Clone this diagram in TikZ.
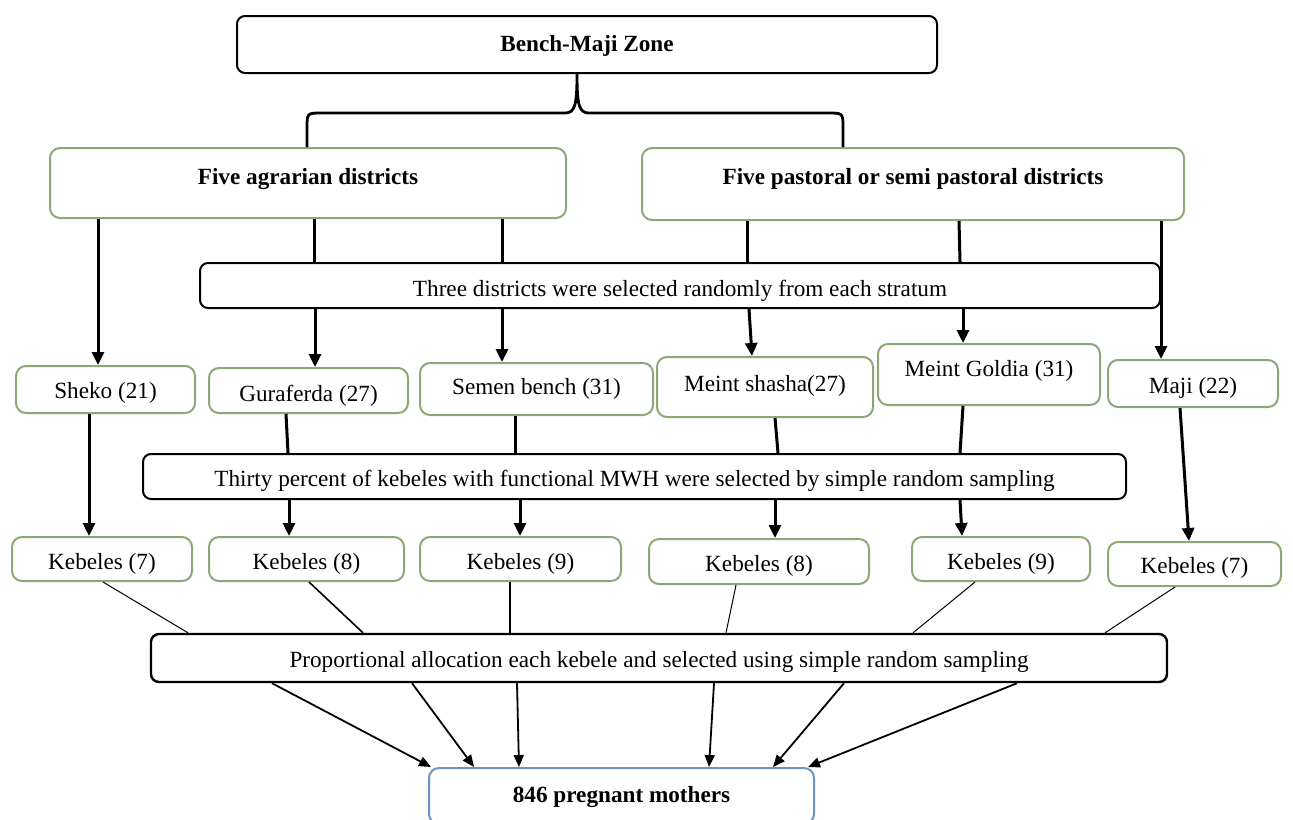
\documentclass[tikz,border=0pt]{standalone}
\usepackage{fontspec}
\setmainfont{Liberation Serif}
\usetikzlibrary{arrows.meta}
\definecolor{boxgreen}{RGB}{140,168,118}
\definecolor{boxblue}{RGB}{108,146,200}
\newcommand\fs{\fontsize{11.6}{13}\selectfont}
% name, box style, text style, x1, y1, x2, y2, text shift (px, down), text
\newcommand\bx[9]{\node[#2, minimum width={(#6-#4)*0.5pt}, minimum height={(#7-#5)*0.5pt}] (#1) at ({(#4+#6)/2},{(#5+#7)/2}) {};
  \node[txt,#3] (#1t) at ({(#4+#6)/2},{(#5+#7)/2+#8}) {#9};}
\tikzset{
  kbox/.style={draw=black, line width=1pt, rounded corners=4pt, inner sep=0pt},
  gbox/.style={draw=boxgreen, line width=1pt, rounded corners=5pt, inner sep=0pt},
  bbox/.style={draw=boxblue, line width=1pt, rounded corners=5pt, inner sep=0pt},
  txt/.style={inner sep=0pt, font=\fs},
  bold/.style={font=\bfseries\fs},
  conn/.style={line width=1.5pt},
  arr/.style={conn, -{Triangle[length=6.5pt,width=6pt]}},
  thinline/.style={line width=0.5pt},
  medline/.style={line width=0.8pt},
  arrb/.style={line width=0.9pt, -{Triangle[length=6pt,width=5pt]}}
}
\begin{document}
\begin{tikzpicture}[x=0.5pt, y=-0.5pt, font=\fs]
\useasboundingbox (0,0) rectangle (1293,819);
% top
\bx{zone}{kbox}{bold}{237}{16}{937}{73}{1}{Bench-Maji Zone}
\bx{agr}{gbox}{bold}{50}{148}{566}{218}{-4}{Five agrarian districts}
\bx{pas}{gbox}{bold}{642}{148}{1184}{220}{-5}{Five pastoral or semi pastoral districts}
% brace
\draw[line width=1.4pt] (agr.north -| 307,0) -- (307,128) .. controls (307,113) and (307,113) .. (322,113) -- (565,113) .. controls (575,113) and (577,105) .. (zone.south -| 577,0) .. controls (577,105) and (579,113) .. (589,113) -- (828,113) .. controls (843,113) and (843,113) .. (843,128) -- (pas.north -| 843,0);
% three districts
\bx{three}{kbox}{}{200}{263}{1160}{308}{5}{Three districts were selected randomly from each stratum}
% row 2
\bx{sheko}{gbox}{}{16}{366}{195}{413}{3}{Sheko (21)}
\bx{gur}{gbox}{}{209}{368}{408}{413}{5}{Guraferda (27)}
\bx{semen}{gbox}{}{420}{363}{653}{415}{0}{Semen bench (31)}
\bx{shasha}{gbox}{}{657}{357}{873}{417}{-1}{Meint shasha(27)}
\bx{goldia}{gbox}{}{878}{344}{1100}{405}{-4}{Meint Goldia (31)}
\bx{maji}{gbox}{}{1108}{360}{1278}{407}{4}{Maji (22)}
% connectors row 1
\draw[arr] (agr.south -| 98,0) -- (sheko.north -| 98,0);
\draw[conn] (agr.south -| 314,0) -- (three.north -| 314,0);
\draw[conn] (agr.south -| 502,0) -- (three.north -| 502,0);
\draw[conn] (pas.south -| 747,0) -- (three.north -| 747,0);
\draw[conn] (pas.south -| 959,0) -- (three.north -| 960,0);
\draw[arr] (pas.south -| 1161,0) -- (maji.north -| 1161,0);
\draw[arr] (three.south -| 315,0) -- (gur.north -| 315,0);
\draw[arr] (three.south -| 502,0) -- (semen.north -| 502,0);
\draw[arr] (three.south -| 749,0) -- (shasha.north -| 752,0);
\draw[arr] (three.south -| 963,0) -- (goldia.north -| 963,0);
% thirty percent
\bx{thirty}{kbox}{}{143}{454}{1126}{499}{4}{Thirty percent of kebeles with functional MWH were selected by simple random sampling}
% kebeles
\bx{ka}{gbox}{}{12}{537}{192}{581}{5}{Kebeles (7)}
\bx{kb}{gbox}{}{209}{537}{404}{581}{5}{Kebeles (8)}
\bx{kc}{gbox}{}{420}{537}{621}{581}{5}{Kebeles (9)}
\bx{kd}{gbox}{}{649}{539}{869}{584}{4}{Kebeles (8)}
\bx{ke}{gbox}{}{912}{537}{1090}{581}{5}{Kebeles (9)}
\bx{kf}{gbox}{}{1108}{542}{1281}{586}{4}{Kebeles (7)}
% connectors row 2
\draw[arr] (sheko.south -| 89,0) -- (ka.north -| 89,0);
\draw[conn] (gur.south -| 286,0) -- (thirty.north -| 288,0);
\draw[conn] (semen.south -| 515,0) -- (thirty.north -| 515,0);
\draw[conn] (shasha.south -| 775,0) -- (thirty.north -| 778,0);
\draw[conn] (goldia.south -| 963,0) -- (thirty.north -| 960,0);
\draw[arr] (maji.south -| 1180,0) -- (kf.north -| 1189,0);
\draw[arr] (thirty.south -| 289,0) -- (kb.north -| 289,0);
\draw[arr] (thirty.south -| 520,0) -- (kc.north -| 520,0);
\draw[arr] (thirty.south -| 775,0) -- (kd.north -| 775,0);
\draw[arr] (thirty.south -| 960,0) -- (ke.north -| 962,0);
% proportional
\bx{prop}{kbox,line width=1.2pt}{}{151}{634}{1167}{682}{4}{Proportional allocation each kebele and selected using simple random sampling}
\draw[thinline] (ka.south -| 103,0) -- (prop.north -| 188,0);
\draw[medline] (kb.south -| 309,0) -- (prop.north -| 363,0);
\draw[medline] (kc.south -| 510,0) -- (prop.north -| 510,0);
\draw[thinline] (kd.south -| 736,0) -- (prop.north -| 726,0);
\draw[thinline] (ke.south -| 975,0) -- (prop.north -| 913,0);
\draw[thinline] (kf.south -| 1175,0) -- (prop.north -| 1105,0);
% mothers
\bx{moth}{bbox}{bold}{429}{768}{814}{824}{1}{846 pregnant mothers}
\draw[arrb] (prop.south -| 272,0) -- (moth.north -| 431,0);
\draw[arrb] (prop.south -| 412,0) -- (moth.north -| 474,0);
\draw[arrb] (prop.south -| 517,0) -- (moth.north -| 519,0);
\draw[arrb] (prop.south -| 714,0) -- (moth.north -| 709,0);
\draw[arrb] (prop.south -| 844,0) -- (moth.north -| 773,0);
\draw[arrb] (prop.south -| 1017,0) -- (moth.north -| 808,0);
\end{tikzpicture}
\end{document}
